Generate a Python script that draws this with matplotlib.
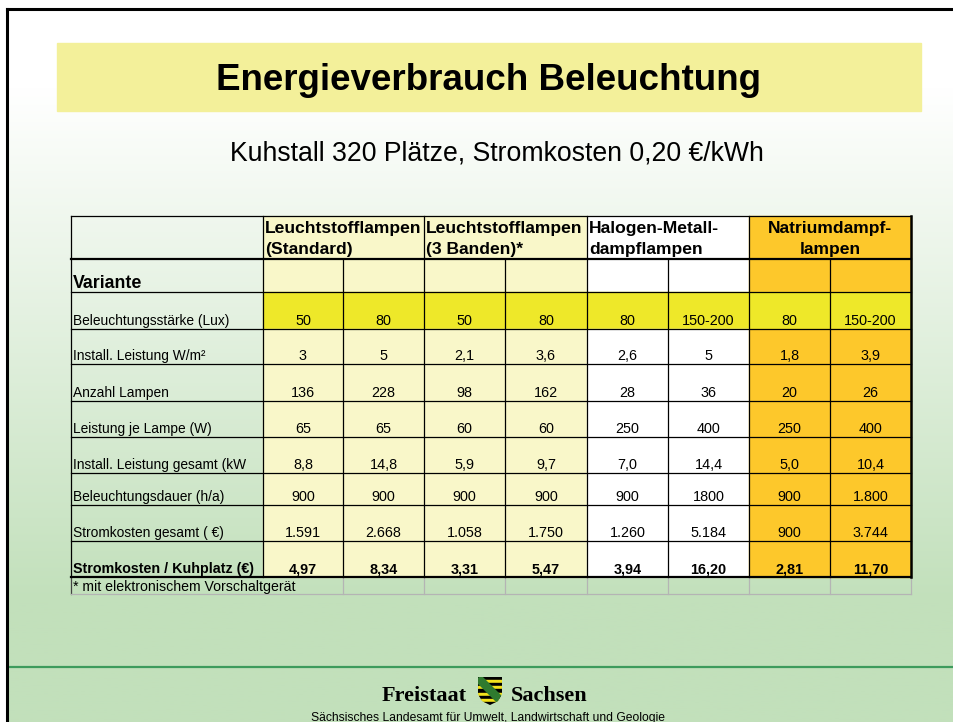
import numpy as np
import matplotlib.pyplot as plt
from matplotlib.patches import Rectangle, Polygon

plt.rcParams['font.family'] = ['Liberation Sans', 'DejaVu Sans']

# Texte und Tabellenwerte
title = 'Energieverbrauch Beleuchtung'
subtitle = 'Kuhstall 320 Plätze, Stromkosten 0,20 €/kWh'
groups = [['Leuchtstofflampen', '(Standard)'],
          ['Leuchtstofflampen', '(3 Banden)*'],
          ['Halogen-Metall-', 'dampflampen'],
          ['Natriumdampf-', 'lampen']]
row_labels = ['Beleuchtungsstärke (Lux)', 'Install. Leistung W/m²', 'Anzahl Lampen',
              'Leistung je Lampe (W)', 'Install. Leistung gesamt (kW',
              'Beleuchtungsdauer (h/a)', 'Stromkosten gesamt ( €)',
              'Stromkosten / Kuhplatz (€)']
lux = ['50', '80', '50', '80', '80', '150-200', '80', '150-200']
w_m2 = ['3', '5', '2,1', '3,6', '2,6', '5', '1,8', '3,9']
lampen = ['136', '228', '98', '162', '28', '36', '20', '26']
w_lampe = ['65', '65', '60', '60', '250', '400', '250', '400']
kw_gesamt = ['8,8', '14,8', '5,9', '9,7', '7,0', '14,4', '5,0', '10,4']
dauer = ['900', '900', '900', '900', '900', '1800', '900', '1.800']
kosten = ['1.591', '2.668', '1.058', '1.750', '1.260', '5.184', '900', '3.744']
kuhplatz = ['4,97', '8,34', '3,31', '5,47', '3,94', '16,20', '2,81', '11,70']
values = [lux, w_m2, lampen, w_lampe, kw_gesamt, dauer, kosten, kuhplatz]
footnote = '* mit elektronischem Vorschaltgerät'
footer = 'Sächsisches Landesamt für Umwelt, Landwirtschaft und Geologie'

# Layout (Pixel)
col_edges = [71, 263, 343, 424, 505, 587, 668, 749, 830, 911]
row_edges = [216, 259, 292, 329, 364, 401, 437, 473, 505, 541, 577]
foot_bottom = 594
light = '#f9f7c9'
yellow = '#eee829'
orange = '#fdc82b'
group_colors = [light, light, 'white', orange]

fig = plt.figure(figsize=(9.54, 7.22), dpi=100)
ax = fig.add_axes([0, 0, 1, 1])
ax.set_xlim(0, 954)
ax.set_ylim(722, 0)
ax.axis('off')

# Hintergrund mit Verlauf weiss -> hellgruen
yy = np.linspace(0, 722, 400)
t = np.clip((yy - 80) / 520, 0, 1)[:, None, None]
white = np.array([1.0, 1.0, 1.0])
green = np.array([194, 224, 187]) / 255
grad = white * (1 - t) + green * t
ax.imshow(grad, extent=[8, 954, 722, 9], aspect='auto', zorder=0)
ax.plot([7, 7], [9, 722], color='black', lw=2.2, zorder=5)
ax.plot([7, 954], [9, 9], color='black', lw=2.2, zorder=5)

# Titel
ax.add_patch(Rectangle((57, 43), 864, 68, color='#f3f09a', zorder=1))
ax.text(489, 90, title, ha='center', va='baseline', fontsize=26.5,
        fontweight='bold', zorder=2)
ax.text(497, 161, subtitle, ha='center', va='baseline', fontsize=19.2, zorder=2)

# Zellen einfaerben
for g in range(4):
    x0 = col_edges[1 + 2 * g]
    x1 = col_edges[3 + 2 * g]
    ax.add_patch(Rectangle((x0, row_edges[0]), x1 - x0, row_edges[2] - row_edges[0],
                           color=group_colors[g], zorder=1))
for r in range(len(values)):
    y0, y1 = row_edges[r + 2], row_edges[r + 3]
    for c in range(8):
        x0, x1 = col_edges[c + 1], col_edges[c + 2]
        fc = yellow if r == 0 else group_colors[c // 2]
        ax.add_patch(Rectangle((x0, y0), x1 - x0, y1 - y0, color=fc, zorder=1))

# Gitterlinien
L, R = col_edges[0], col_edges[-1]
for i, y in enumerate(row_edges):
    lw = 1.6 if y in (row_edges[1], row_edges[-1]) else 0.9
    ax.plot([L, R], [y, y], color='black', lw=lw, zorder=4)
for i, x in enumerate(col_edges):
    top = row_edges[0] if (i < 2 or i % 2 == 1) else row_edges[1]
    lw = 1.8 if i == len(col_edges) - 1 else 0.9
    ax.plot([x, x], [top, row_edges[-1]], color='black', lw=lw, zorder=4)

# Fussnotenzeile
ax.plot([L, L], [row_edges[-1], foot_bottom], color='#444444', lw=0.9, zorder=3)
for x in col_edges[2:]:
    ax.plot([x, x], [row_edges[-1], foot_bottom], color='#b4b4b4', lw=0.9, zorder=3)
ax.plot([L, R], [foot_bottom, foot_bottom], color='#b4b4b4', lw=0.9, zorder=3)
ax.text(L + 2, foot_bottom - 3, footnote, ha='left', va='baseline', fontsize=10.2, zorder=5)

# Kopfzeile
for g, (l1, l2) in enumerate(groups):
    x0 = col_edges[1 + 2 * g]
    x1 = col_edges[3 + 2 * g]
    if g < 3:
        xt, ha = x0 + 2, 'left'
    else:
        xt, ha = (x0 + x1) / 2, 'center'
    ax.text(xt, 233, l1, ha=ha, va='baseline', fontsize=12.6,
            fontweight='bold', zorder=5)
    ax.text(xt, 254, l2, ha=ha, va='baseline', fontsize=12.6,
            fontweight='bold', zorder=5)
ax.text(L + 2, 288, 'Variante', ha='left', va='baseline', fontsize=12.8,
        fontweight='bold', zorder=5)

# Zeilen
for r, (lab, vals) in enumerate(zip(row_labels, values)):
    base = row_edges[r + 3] - 4
    last = r == len(values) - 1
    fw = 'bold' if last else 'normal'
    ax.text(L + 2, base, lab, ha='left', va='baseline',
            fontsize=10.3 if last else 9.9, fontweight=fw, zorder=5)
    for c, v in enumerate(vals):
        xc = (col_edges[c + 1] + col_edges[c + 2]) / 2
        ax.text(xc, base, v, ha='center', va='baseline', fontsize=10.4,
                fontweight=fw, zorder=5)

# Fussbereich
ax.plot([8, 954], [667, 667], color='#3d9b5c', lw=1.6, zorder=3)
ax.text(467, 701, 'Freistaat', ha='right', va='baseline', fontsize=16,
        fontweight='bold', family='Liberation Serif', zorder=5)
ax.text(511, 701, 'Sachsen', ha='left', va='baseline', fontsize=16,
        fontweight='bold', family='Liberation Serif', zorder=5)
shield = Polygon([(478, 677), (502, 677), (502, 694), (498, 701), (490, 705),
                  (482, 701), (478, 694)], closed=True, facecolor='none',
                 edgecolor='none', zorder=4)
ax.add_patch(shield)
for k in range(9):
    stripe = Rectangle((478, 677 + k * 28 / 9), 24, 28 / 9,
                       color='black' if k % 2 == 0 else '#f2e21c', zorder=4)
    ax.add_patch(stripe)
    stripe.set_clip_path(shield)
band = Polygon([(476, 681), (481, 676), (505, 700), (500, 705)], closed=True,
               color='#2f7a2f', zorder=4.5)
ax.add_patch(band)
band.set_clip_path(shield)
ax.text(488, 720.5, footer, ha='center', va='baseline', fontsize=8.7, zorder=5)

fig.savefig('out.png', dpi=100)
